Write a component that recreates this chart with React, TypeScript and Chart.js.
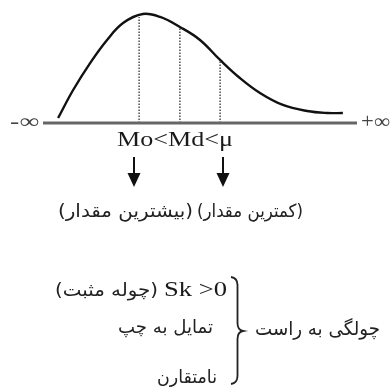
import React, { useEffect, useRef } from "react";
import { Chart, registerables } from "chart.js";

Chart.register(...registerables);

// Curve of a right-skewed distribution (x: position along axis 0..100, y: relative density 0..100)
const curveX = [4.8, 9.6, 15.0, 20.4, 25.5, 31.8, 37.3, 43.6, 50.0, 56.4, 62.7, 69.1, 76.4, 84.1, 90.4, 95.5];
const curveY = [4.5, 30, 54.5, 75.5, 90.9, 99.1, 96.4, 87.3, 75.5, 57.3, 40.9, 27.3, 16.4, 10.9, 9.1, 9.1];

// Mode, median, mean positions and the curve height at each
const markerNames = ["Mo", "Md", "μ"];
const markerX = [30.6, 43.6, 56.4];
const markerTop = [96.4, 87.3, 57.3];

// Axis extent
const axisX = [0, 100];

// Arrows point down from Mo and μ
const arrowX = [29.0, 57.3];

const relationLabel = "Mo<Md<μ";
const leftInf = "-∞";
const rightInf = "+∞";
const arrowLabels = ["(بیشترین مقدار)", "(کمترین مقدار)"];
const skLabel = "Sk >0";
const braceLines = ["(چوله مثبت)", "تمایل به چپ", "نامتقارن"];
const braceTitle = "چولگی به راست";

const LATIN = '"Liberation Serif", "Times New Roman", serif';
const PERSIAN = '"DejaVu Sans", sans-serif';

function fitText(
  ctx: CanvasRenderingContext2D,
  text: string,
  left: number,
  right: number,
  cy: number,
  font: string,
  rtl: boolean,
  color = "#1a1a1a"
) {
  ctx.save();
  ctx.font = font;
  ctx.direction = rtl ? "rtl" : "ltr";
  ctx.textAlign = "center";
  ctx.textBaseline = "middle";
  ctx.fillStyle = color;
  const w = ctx.measureText(text).width || 1;
  const sx = (right - left) / w;
  ctx.translate((left + right) / 2, cy);
  ctx.scale(sx, 1);
  ctx.fillText(text, 0, 0);
  ctx.restore();
}

const annotationPlugin = {
  id: "annotations",
  afterDraw(chart: any) {
    const ctx: CanvasRenderingContext2D = chart.ctx;
    const xs = chart.scales.x;
    const ys = chart.scales.y;
    const axisY = ys.getPixelForValue(0);

    // infinity labels
    fitText(ctx, leftInf, 10, 39, axisY, `20px ${LATIN}`, false, "#444");
    fitText(ctx, rightInf, 361, 390, axisY, `20px ${LATIN}`, false, "#444");

    // relation label
    fitText(ctx, relationLabel, 117, 233, 140, `21px ${LATIN}`, false);

    // arrows
    ctx.save();
    ctx.strokeStyle = "#111";
    ctx.fillStyle = "#111";
    ctx.lineWidth = 2;
    arrowX.forEach((v) => {
      const px = Math.round(xs.getPixelForValue(v));
      ctx.beginPath();
      ctx.moveTo(px, 157);
      ctx.lineTo(px, 176);
      ctx.stroke();
      ctx.beginPath();
      ctx.moveTo(px - 6.5, 173);
      ctx.lineTo(px + 6.5, 173);
      ctx.lineTo(px, 187);
      ctx.closePath();
      ctx.fill();
    });
    ctx.restore();

    // labels under arrows
    fitText(ctx, arrowLabels[0], 58, 193, 212, `18px ${PERSIAN}`, true, "#222");
    fitText(ctx, arrowLabels[1], 197, 303, 212, `18px ${PERSIAN}`, true, "#222");

    // lower block
    fitText(ctx, skLabel, 164, 227, 290, `21px ${LATIN}`, false);
    fitText(ctx, braceLines[0], 55, 158, 291, `18px ${PERSIAN}`, true, "#222");
    fitText(ctx, braceLines[1], 118, 213, 328, `18px ${PERSIAN}`, true, "#222");
    fitText(ctx, braceLines[2], 157, 217, 378, `18px ${PERSIAN}`, true, "#222");
    fitText(ctx, braceTitle, 255, 380, 330, `19px ${PERSIAN}`, true, "#222");

    // brace
    ctx.save();
    ctx.strokeStyle = "#222";
    ctx.lineWidth = 1.8;
    ctx.beginPath();
    ctx.moveTo(231, 277);
    ctx.quadraticCurveTo(237.5, 278, 237.5, 285);
    ctx.lineTo(237.5, 323);
    ctx.quadraticCurveTo(237.5, 330, 243, 331);
    ctx.quadraticCurveTo(237.5, 332, 237.5, 339);
    ctx.lineTo(237.5, 376);
    ctx.quadraticCurveTo(237.5, 383, 231, 384);
    ctx.stroke();
    ctx.restore();
  },
};

export default function App() {
  const ref = useRef<HTMLCanvasElement>(null);

  useEffect(() => {
    if (!ref.current) return;
    const markerSets = markerX.map((mx, i) => ({
      label: markerNames[i],
      data: [
        { x: mx, y: 0 },
        { x: mx, y: markerTop[i] },
      ],
      showLine: true,
      borderColor: "#222",
      borderWidth: 1.2,
      borderDash: [1.5, 1.5],
      pointRadius: 0,
      clip: false as any,
    }));
    const chart = new Chart(ref.current, {
      type: "scatter",
      data: {
        datasets: [
          {
            label: "axis",
            data: axisX.map((x) => ({ x, y: 0 })),
            showLine: true,
            borderColor: "#666",
            borderWidth: 3,
            pointRadius: 0,
            clip: false as any,
          },
          ...markerSets,
          {
            label: "curve",
            data: curveX.map((x, i) => ({ x, y: curveY[i] })),
            showLine: true,
            borderColor: "#111",
            borderWidth: 2.4,
            pointRadius: 0,
            tension: 0.4,
            clip: false as any,
          },
        ],
      },
      options: {
        animation: false,
        responsive: false,
        maintainAspectRatio: false,
        layout: { padding: { left: 43, right: 33, top: 13, bottom: 267 } },
        scales: {
          x: { type: "linear", min: 0, max: 100, display: false },
          y: { type: "linear", min: 0, max: 100, display: false },
        },
        plugins: {
          legend: { display: false },
          tooltip: { enabled: false },
        },
      },
      plugins: [annotationPlugin],
    });
    return () => chart.destroy();
  }, []);

  return (
    <div style={{ position: "absolute", left: 0, top: 0, width: 390, height: 390, background: "#fff" }}>
      <canvas ref={ref} width={390} height={390} style={{ display: "block", width: 390, height: 390 }} />
    </div>
  );
}
